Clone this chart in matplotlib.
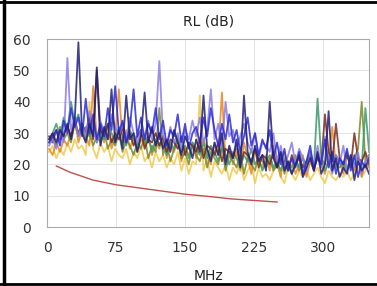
import numpy as np
import matplotlib
matplotlib.use("Agg")
import matplotlib.pyplot as plt
from matplotlib.lines import Line2D

# frequency sweep, 2..350 MHz in 4 MHz steps
freq = np.arange(2, 351, 4)

navy = [28,30,27,31,29,33,28,34,59,30, 27,33,29,51,26,32,28,44,27,31,
        25,42,28,30,24,29,43,27,32,26, 30,25,28,24,31,27,23,29,26,22,
        28,24,42,25,21,27,23,30,20,26, 22,28,19,42,24,20,26,21,23,18,
        40,22,19,24,18,21,17,20,23,16, 19,22,18,24,17,20,37,18,22,16,
        19,17,23,15,21,18,20,17]
blue = [27,29,31,26,34,30,38,32,35,29, 41,30,36,28,33,29,38,31,45,30,
        34,27,32,44,29,35,28,33,30,38, 28,34,26,31,29,36,27,33,25,30,
        32,27,35,29,38,31,26,33,28,36, 27,31,24,29,35,26,30,23,28,25,
        31,22,27,20,25,18,22,19,24,17, 21,26,18,23,20,28,19,24,17,22,
        20,25,18,23,16,21,19,22]
purple = [26,28,25,30,27,54,31,35,29,33, 29,37,31,27,34,30,28,36,32,29,
          33,28,35,30,27,31,29,34,28,33, 53,29,26,32,27,30,25,31,28,34,
          29,35,27,31,44,28,33,26,40,29, 31,25,29,33,27,24,30,22,27,26,
          24,30,21,26,19,23,27,20,25,22, 18,24,20,26,19,29,21,17,23,20,
          26,18,22,19,24,17,21,23]
orange = [25,23,27,24,28,26,30,35,27,31, 29,26,45,28,31,27,33,25,29,44,
          27,31,25,29,24,28,26,30,23,27, 25,29,22,26,24,28,21,25,23,27,
          22,26,28,24,20,27,23,43,21,25, 20,24,18,27,22,17,25,21,19,23,
          18,26,21,16,24,19,22,17,20,23, 16,21,18,24,20,17,22,32,19,21,
          17,23,20,18,22,16,21,19]
gold = [24,26,22,25,23,27,24,28,25,26, 23,40,25,22,27,24,26,21,25,23,
        22,25,20,24,22,26,21,23,19,24, 21,23,19,22,20,24,18,22,17,21,
        20,42,18,22,16,21,19,17,20,15, 19,17,21,15,18,20,14,19,16,17,
        15,18,20,16,14,19,17,15,18,16, 18,15,17,19,16,14,18,16,15,17,
        16,18,15,17,19,16,18,20]
olive = [27,29,26,32,28,30,27,33,29,31, 28,30,26,29,27,31,25,28,26,30,
         24,28,26,23,27,25,29,22,26,24, 38,23,27,21,25,28,22,24,20,26,
         23,21,25,19,24,22,20,26,18,23, 21,19,24,17,22,20,18,23,21,19,
         22,18,20,24,17,21,19,23,18,20, 21,24,19,22,22,20,25,18,23,21,
         19,24,20,22,25,40,21,23]
brown = [29,27,31,28,30,32,29,34,30,33, 30,35,28,50,31,29,33,27,30,28,
         32,27,30,26,29,31,25,28,27,30, 26,29,24,28,27,25,29,23,27,26,
         24,28,22,26,25,23,27,21,25,24, 22,26,20,24,23,21,25,19,23,22,
         20,24,19,22,21,18,23,20,22,19, 21,23,19,22,20,36,24,21,33,22,
         20,23,19,30,22,21,24,20]
teal = [28,30,33,29,35,31,40,33,36,30, 32,29,34,27,31,28,33,30,27,32,
        29,26,31,28,25,30,27,29,24,28, 26,28,23,27,25,29,24,26,22,27,
        25,23,27,22,26,24,21,25,23,20, 24,22,19,23,21,25,20,22,18,21,
        23,19,21,18,22,20,17,21,19,22, 20,23,19,41,22,18,21,24,20,19,
        21,18,23,20,22,19,38,24]

# limit line
limit_freq = [10, 25, 50, 75, 100, 125, 150, 175, 200, 225, 250]
limit_rl = [19.5, 17.5, 15, 13.5, 12.5, 11.5, 10.5, 9.8, 9, 8.5, 8]

series = [
    (gold, "#f2c94c"),
    (orange, "#e8871e"),
    (olive, "#7a8a2a"),
    (teal, "#3a9a6a"),
    (brown, "#7a2a1a"),
    (purple, "#8a7be6"),
    (blue, "#2b2bd9"),
    (navy, "#1f1f7a"),
]

fig = plt.figure(figsize=(3.77, 2.86), dpi=100)
ax = fig.add_axes([0.125, 0.206, 0.854, 0.657])

for vals, col in series:
    ax.plot(freq, vals, color=col, lw=1.3, alpha=0.85)
ax.plot(limit_freq, limit_rl, color="#c0504d", lw=1.0)

ax.set_xlim(0, 350)
ax.set_ylim(0, 60)
ax.set_xticks([0, 75, 150, 225, 300])
ax.set_yticks(range(0, 61, 10))
ax.tick_params(length=0, labelsize=10, labelcolor="#333333")
ax.tick_params(axis="x", pad=10)
ax.tick_params(axis="y", pad=12)
ax.grid(color="#e4e4e4", lw=0.7)
ax.set_axisbelow(True)
for s in ax.spines.values():
    s.set_color("#aaaaaa")
    s.set_linewidth(0.8)

ax.set_title("RL (dB)", fontsize=10, color="#222222", pad=10)
ax.set_xlabel("MHz", fontsize=10, color="#222222", labelpad=10)

# black frame lines of the screenshot (top, left, bottom)
fig.lines.append(Line2D([0, 1], [0.993, 0.993], transform=fig.transFigure, color="black", lw=2))
fig.lines.append(Line2D([0.011, 0.011], [0, 1], transform=fig.transFigure, color="black", lw=2.5))
fig.lines.append(Line2D([0, 1], [0.007, 0.007], transform=fig.transFigure, color="black", lw=2))

plt.savefig("out.png", dpi=100)
